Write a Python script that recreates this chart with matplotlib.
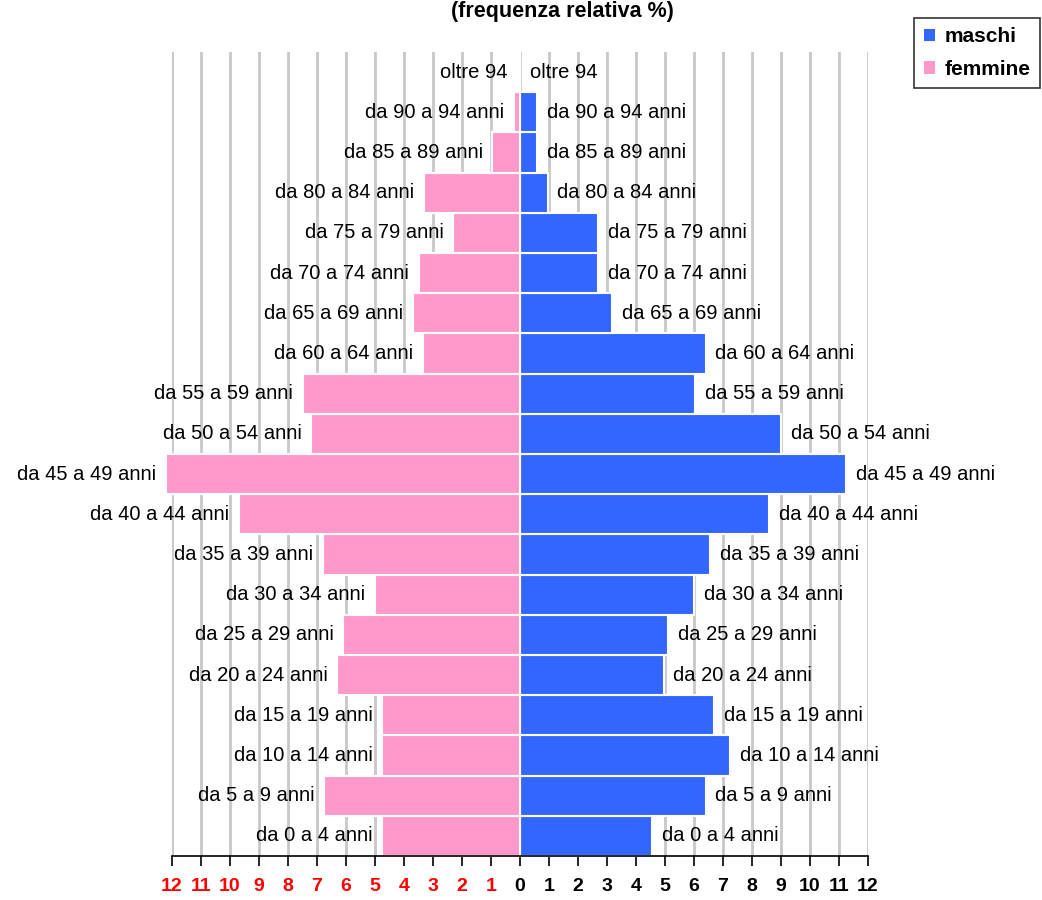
import matplotlib
matplotlib.use("Agg")
import matplotlib.pyplot as plt
from matplotlib.patches import Patch

plt.rcParams['font.family'] = ['Liberation Sans', 'DejaVu Sans']

age_groups = ["da 0 a 4 anni", "da 5 a 9 anni", "da 10 a 14 anni", "da 15 a 19 anni",
              "da 20 a 24 anni", "da 25 a 29 anni", "da 30 a 34 anni", "da 35 a 39 anni",
              "da 40 a 44 anni", "da 45 a 49 anni", "da 50 a 54 anni", "da 55 a 59 anni",
              "da 60 a 64 anni", "da 65 a 69 anni", "da 70 a 74 anni", "da 75 a 79 anni",
              "da 80 a 84 anni", "da 85 a 89 anni", "da 90 a 94 anni", "oltre 94"]
maschi = [4.55, 6.4, 7.25, 6.7, 4.95, 5.1, 6.0, 6.55, 8.6, 11.25, 9.0, 6.05,
          6.4, 3.17, 2.7, 2.7, 0.95, 0.6, 0.6, 0.0]
femmine = [4.75, 6.75, 4.75, 4.75, 6.3, 6.1, 5.0, 6.8, 9.7, 12.2, 7.2, 7.5,
           3.35, 3.7, 3.5, 2.3, 3.3, 0.95, 0.2, 0.08]
tick_values = list(range(-12, 13))
tick_labels = [str(abs(v)) for v in tick_values]

col_m = "#3366FF"
col_f = "#FF99CC"

fig = plt.figure(figsize=(10.42, 9.0), dpi=100)
ax = fig.add_axes([172/1042, 1-856/900, (868-172)/1042, (856-52)/900])

y = list(range(len(age_groups)))
bm = ax.barh(y, maschi, height=1.0, color=col_m, edgecolor="white", linewidth=1.5, zorder=2)
bf = ax.barh(y, [-v for v in femmine], height=1.0, color=col_f, edgecolor="white", linewidth=1.5, zorder=2)
for p in list(bm) + list(bf):
    p.set_clip_on(False)

for i, lab in enumerate(age_groups):
    ax.annotate(lab, xy=(maschi[i], i), xytext=(7, 0), textcoords="offset points",
                ha="left", va="center", fontsize=14.5, color="black", zorder=3,
                annotation_clip=False)
    ax.annotate(lab, xy=(-femmine[i], i), xytext=(-7, 0), textcoords="offset points",
                ha="right", va="center", fontsize=14.5, color="black", zorder=3,
                annotation_clip=False)

ax.set_xlim(-12, 12)
ax.set_ylim(-0.5, len(age_groups) - 0.5)
ax.set_xticks(tick_values)
ax.set_xticklabels(tick_labels, fontsize=14, fontweight="bold")
ax.tick_params(axis="x", direction="out", length=7, width=1.2, pad=9, colors="black")
for t, v in zip(ax.get_xticklabels(), tick_values):
    t.set_color("red" if v < 0 else "black")
ax.set_yticks([])
ax.grid(axis="x", color="#C8C8C8", linewidth=2, zorder=0)
ax.set_axisbelow(True)
for s in ["top", "left", "right"]:
    ax.spines[s].set_visible(False)
ax.spines["bottom"].set_linewidth(1.2)
ax.spines["bottom"].set_zorder(4)

fig.text(562/1042, 1 - 1/900, "(frequenza relativa %)", ha="center", va="top",
         fontsize=15.5, fontweight="bold")

handles = [Patch(facecolor=col_m, edgecolor="none"), Patch(facecolor=col_f, edgecolor="none")]
leg = fig.legend(handles, ["maschi", "femmine"], loc="upper right",
                 bbox_to_anchor=(1040/1042, 1-18/900), frameon=True, fancybox=False,
                 prop={"weight": "bold", "size": 15}, handlelength=0.55, handleheight=0.55,
                 handletextpad=0.45, borderpad=0.45, labelspacing=0.65, borderaxespad=0)
leg.get_frame().set_edgecolor("black")
leg.get_frame().set_linewidth(1.2)

fig.savefig("out.png", dpi=100)
